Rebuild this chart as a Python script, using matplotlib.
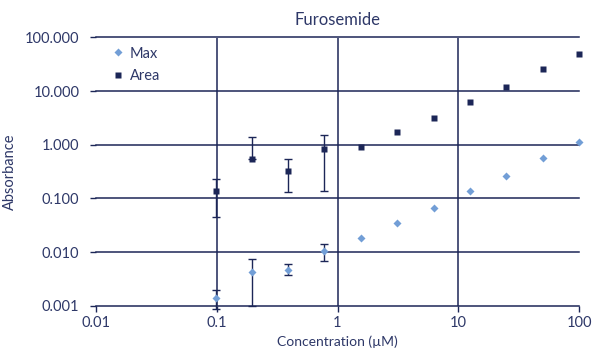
import numpy as np
import matplotlib
matplotlib.use('Agg')
from matplotlib import pyplot as plt, ticker as ticker

# concentrations (uM)
conc = [0.098, 0.195, 0.39, 0.78, 1.56, 3.125, 6.25, 12.5, 25, 50, 100]

# Area series with error bounds (nan = no bar)
area = [0.14, 0.55, 0.33, 0.85, 0.90, 1.7, 3.1, 6.4, 11.8, 25.7, 49.0]
area_lo = [0.045, 0.55, 0.13, 0.14] + [np.nan] * 7
area_hi = [0.234, 1.37, 0.55, 1.52] + [np.nan] * 7

# Max series with error bounds
max_vals = [0.0014, 0.0042, 0.0046, 0.0104, 0.0179, 0.0346, 0.067, 0.136, 0.266, 0.57, 1.15]
max_lo = [0.00085, 0.0010, 0.0037, 0.0069] + [np.nan] * 7
max_hi = [0.0020, 0.0074, 0.0061, 0.0141] + [np.nan] * 7

x_ticks = [0.01, 0.1, 1, 10, 100]
x_labels = ['0.01', '0.1', '1', '10', '100']
y_ticks = [0.001, 0.01, 0.1, 1, 10, 100]
y_labels = ['0.001', '0.010', '0.100', '1.000', '10.000', '100.000']

navy = '#1c2657'
light = '#729ed6'
text_c = '#2e3868'

plt.rcParams['font.family'] = ['Lato', 'DejaVu Sans']

fig = plt.figure(figsize=(5.95, 3.58), dpi=100)
ax = fig.add_axes([96 / 595, 1 - 305.7 / 358, (579 - 96) / 595, (305.7 - 37.5) / 358])
ax.set_xscale('log')
ax.set_yscale('log')
ax.set_xlim(0.01, 100)
ax.set_ylim(0.001, 100)

# grid: horizontal at every decade, vertical only inside
for y in y_ticks:
    ax.axhline(y, color=navy, lw=1.1, zorder=1, clip_on=False)
for x in x_ticks[1:-1]:
    ax.axvline(x, color=navy, lw=1.1, zorder=1)


def draw_err(vals, lo, hi):
    v = np.array(vals)
    lo = np.array(lo)
    hi = np.array(hi)
    has = ~np.isnan(hi)
    x = np.array(conc)[has]
    lower = v[has] - lo[has]
    upper = hi[has] - v[has]
    ax.errorbar(x, v[has], yerr=[lower, upper], fmt='none', ecolor=navy,
                elinewidth=1, capsize=3, capthick=1, zorder=2, clip_on=False)


draw_err(max_vals, max_lo, max_hi)
draw_err(area, area_lo, area_hi)
ax.plot(conc, max_vals, 'D', color=light, ms=4.5, mec='none', label='Max', zorder=3, clip_on=False)
ax.plot(conc, area, 's', color=navy, ms=5, mec='none', label='Area', zorder=4, clip_on=False)

for s in ax.spines.values():
    s.set_visible(False)

ax.xaxis.set_major_locator(ticker.FixedLocator(x_ticks))
ax.xaxis.set_major_formatter(ticker.FixedFormatter(x_labels))
ax.xaxis.set_minor_locator(ticker.NullLocator())
ax.yaxis.set_major_locator(ticker.FixedLocator(y_ticks))
ax.yaxis.set_major_formatter(ticker.FixedFormatter(y_labels))
ax.yaxis.set_minor_locator(ticker.NullLocator())
ax.tick_params(axis='both', colors=navy, labelcolor=text_c, labelsize=10.5, length=4, width=1)
ax.tick_params(axis='y', pad=8)

ax.set_xlabel('Concentration (\u00b5M)', color=text_c, fontsize=10, labelpad=4)
ax.set_ylabel('Absorbance', color=text_c, fontsize=10.5, labelpad=6)
ax.set_title('Furosemide', color=text_c, fontsize=12, pad=9)

leg = ax.legend(loc='upper left', bbox_to_anchor=(0.0, 1.015), frameon=False,
                fontsize=10.5, handletextpad=0.2, labelspacing=0.6, handlelength=1.2,
                labelcolor=text_c)

fig.savefig('out.png', dpi=100)
